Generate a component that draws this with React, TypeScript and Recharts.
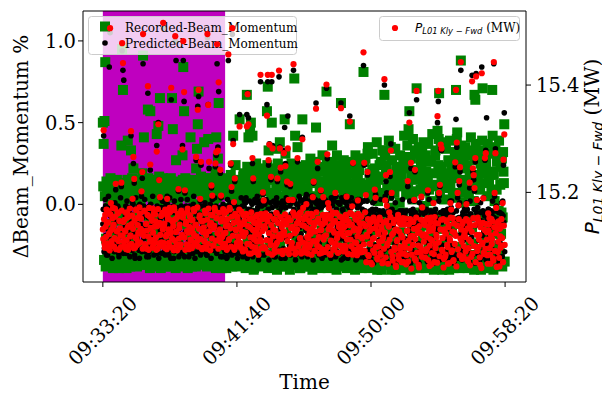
import React from 'react';
import { ScatterChart, Scatter, XAxis, YAxis, ReferenceArea } from 'recharts';

const W = 602;
const H = 394;
const SERIF = '"DejaVu Serif", serif';
const SANS = '"DejaVu Sans", sans-serif';

// time axis: seconds of day; samples every 1.5 s from 09:33:20 (two interleaved sets, 3 s apart each)
const T0 = 34400;
const STEP = 3;
const HALF = 1.5;
const X_DOMAIN = [34326, 35978];
const X_TICKS = [34400, 34900, 35400, 35900];
const SHADE_START = 34400;
const SHADE_END = 34856;

const LEFT_DOMAIN = [-0.475, 1.183];
const LEFT_TICKS = [0, 0.5, 1];
const RIGHT_DOMAIN = [15.033, 15.538];
const RIGHT_TICKS = [15.2, 15.4];

// Recorded-Beam_Momentum (%), samples at T0 + 3 s * i
const RECORDED = [
  0.50, 0.37, 0.51, 0.87, -0.21, 0.08, -0.35, -0.02, 0.12, -0.28, 0.03, -0.14, -0.37, 0.14, -0.06, -0.31, 0.10, -0.18, -0.25, 0.06, -0.39, -0.10, 0.01, 0.36, 0.95,
  0.70, -0.17, 0.09, -0.33, -0.04, -0.26, 0.39, 0.13, -0.12, -0.38, 0.33, -0.08, 0.05, 0.22, 0.15, -0.22, -0.30, 0.02, -0.36, -0.15, 0.11, -0.27, -0.01, 0.07, 0.19,
  0.91, 0.41, -0.31, 0.10, -0.19, -0.37, 0.58, -0.05, 0.14, 0.57, -0.24, -0.12, 0.04, -0.34, -0.16, 0.12, -0.28, 0.43, -0.09, 0.48, 0.17, 0.65, -0.39, -0.02, -0.21,
  -0.13, 0.06, -0.36, -0.20, 0.11, -0.03, -0.29, 0.15, -0.10, -0.38, -0.17, 0.65, 0.46, 0.08, -0.25, -0.06, 0.27, -0.33, 0.02, -0.22, 0.13, -0.11, -0.35, 0.05, 0.30,
  0.84, 0.57, 0.09, -0.28, -0.12, 0.13, -0.35, -0.07, 0.04, 0.41, -0.21, -0.38, 0.10, -0.15, -0.30, 0.00, 0.22, 0.34, 0.49, 0.69, -0.24, -0.09, 0.17, -0.33, 0.07,
  0.12, 0.38, -0.34, 0.05, -0.18, -0.08, 0.40, 0.16, -0.27, -0.01, 0.09, -0.37, -0.13, 0.03, -0.23, 0.20, 0.41, -0.30, 0.28, 0.62, -0.05, 0.14, -0.20, -0.39, 0.08,
  -0.26, 0.07, -0.11, -0.36, 0.15, -0.19, -0.02, 0.11, -0.31, 0.18, -0.07, -0.38, 0.42, 0.05, -0.23, 0.24, -0.14, -0.33, 0.01, -0.27, 0.52, 0.09, -0.17, -0.04, 0.13,
  0.19, -0.13, 0.06, -0.35, 0.67, -0.22, 0.41, -0.05, 0.45, 0.50, -0.29, 0.42, 0.17, -0.39, 0.10, -0.17, -0.32, 0.03, 0.21, -0.25, -0.10, 0.13, -0.37, -0.02, 0.08,
  -0.11, 0.14, -0.33, -0.01, 0.57, 0.72, 0.33, -0.24, 0.20, -0.15, 0.50, -0.38, 0.05, -0.27, -0.08, 0.16, -0.35, 0.34, 0.11, -0.20, 0.38, -0.04, 0.19, -0.30, 0.02,
  0.18, 0.52, 0.31, -0.18, 0.09, -0.30, 0.02, -0.37, 0.15, -0.09, -0.25, 0.21, -0.13, 0.77, 0.42, -0.34, 0.06, 0.35, -0.21, 0.12, -0.39, -0.03, -0.28, 0.52, 0.10,
  -0.14, 0.23, -0.31, 0.08, -0.05, -0.38, 0.17, -0.22, 0.28, -0.10, 0.03, -0.34, 0.14, -0.19, 0.25, 0.47, -0.27, 0.21, -0.02, -0.36, 0.11, 0.06, -0.16, 0.30, -0.08,
  0.20, -0.24, 0.04, 0.69, -0.12, 0.15, -0.35, 0.09, -0.18, 0.26, 0.36, -0.29, -0.06, 0.12, -0.39, 0.19, 0.30, -0.21, 0.01, -0.32, 0.24, 0.62, -0.09, -0.37, 0.07,
  -0.15, 0.10, -0.33, 0.18, -0.04, -0.26, 0.13, 0.49, -0.38, 0.06, -0.19, 0.22, -0.11, -0.36, 0.30, 0.02, -0.23, 0.16, -0.30, -0.07, 0.27, 0.09, -0.39, -0.14, 0.81,
  0.26, -0.20, 0.09, -0.33, 0.31, -0.12, 0.04, -0.38, 0.14, -0.26, 0.21, -0.07, -0.35, 0.17, 0.11, -0.16, -0.40, 0.02, -0.29, 0.24, -0.10, -0.37, 0.07, -0.23, 0.33,
  0.67, 0.30, 0.19, 0.24, -0.14, 0.05, -0.31, 0.13, 0.35, 0.08, -0.38, -0.02, -0.22, 0.16, -0.40, -0.09, 0.21, -0.27, -0.35, 0.01, -0.17, 0.11, -0.30, -0.05, -0.39,
  0.12, -0.25, 0.06, -0.36, 0.22, 0.46, 0.57, -0.10, 0.28, -0.18, 0.03, -0.39, 0.15, 0.33, -0.29, 0.71, -0.06, 0.19, -0.33, -0.14, 0.09, 0.25, 0.32, -0.21, -0.01,
  0.08, -0.32, 0.20, -0.13, 0.14, -0.24, -0.38, 0.02, 0.27, -0.19, -0.05, 0.11, -0.36, 0.30, -0.28, -0.09, 0.45, 0.24, 0.68, 0.05, 0.38, 0.18, -0.40, -0.15, 0.03,
  -0.22, 0.10, -0.35, 0.19, -0.08, 0.26, -0.30, 0.13, 0.21, -0.17, 0.04, -0.39, 0.16, 0.29, 0.70, 0.40, -0.12, -0.26, 0.07, 0.23, 0.88, -0.36, 0.01, -0.19, 0.32,
  0.15, -0.31, 0.24, -0.10, -0.38, 0.06, 0.20, -0.24, 0.11, -0.15, 0.33, 0.02, 0.67, 0.64, 0.27, -0.34, 0.18, -0.06, -0.29, 0.09, -0.40, 0.22, 0.71, 0.13, -0.20,
  0.31, 0.22, -0.16, 0.05, -0.33, 0.14, -0.22, -0.39, 0.09, 0.70, -0.27, 0.18, 0.02, 0.35, -0.11, 0.26, -0.36, -0.04, -0.30, 0.12, -0.18, 0.28, -0.08, 0.20, 0.49,
];

// Recorded-Beam_Momentum (%), samples at T0 + 1.5 s + 3 s * i
const RECORDED_HALF = [
  0.11, -0.34, 0.05, -0.38, 0.14, -0.31, -0.12, 0.08, -0.36, 0.16, -0.33, 0.02, -0.39, 0.12, -0.22, 0.06, -0.35, 0.15, -0.30, -0.05, 0.09, -0.37, 0.13, -0.32, 0.04,
  -0.36, 0.13, -0.31, 0.06, -0.39, 0.15, -0.18, -0.33, 0.10, -0.37, 0.03, 0.16, -0.30, -0.08, 0.12, -0.35, 0.07, -0.38, 0.14, -0.26, -0.32, 0.09, -0.36, 0.11, 0.05,
  0.14, -0.33, 0.08, -0.37, 0.12, -0.29, 0.16, -0.10, -0.39, 0.05, -0.34, 0.13, -0.31, 0.09, -0.24, -0.36, 0.15, 0.03, -0.38, 0.11, -0.32, 0.07, -0.15, -0.35, 0.16,
  -0.32, 0.10, -0.38, 0.15, -0.06, 0.12, -0.35, 0.04, -0.30, 0.16, -0.37, -0.21, 0.08, -0.33, 0.14, -0.39, 0.11, -0.13, -0.36, 0.06, 0.13, -0.31, 0.09, -0.38, 0.15,
  0.07, -0.37, 0.16, -0.31, 0.11, -0.39, -0.16, 0.13, -0.34, 0.05, -0.36, 0.15, -0.09, -0.32, 0.10, -0.38, 0.14, -0.27, 0.08, -0.35, 0.12, -0.30, -0.03, 0.16, -0.37,
  -0.35, 0.15, -0.30, 0.09, -0.38, 0.13, -0.11, -0.33, 0.06, 0.16, -0.37, -0.20, 0.11, -0.31, 0.14, -0.39, 0.04, -0.34, 0.12, -0.07, -0.36, 0.10, 0.15, -0.32, -0.25,
  0.13, -0.32, 0.06, -0.39, 0.16, -0.14, -0.35, 0.10, -0.30, 0.14, -0.37, 0.03, -0.22, 0.12, -0.34, 0.08, -0.38, 0.15, -0.05, -0.31, 0.11, -0.36, 0.07, -0.33, 0.17,
  -0.34, 0.18, -0.39, 0.09, 0.23, -0.31, -0.14, 0.13, -0.37, 0.21, -0.33, 0.06, -0.40, 0.16, -0.23, 0.25, -0.35, 0.11, -0.30, -0.06, 0.19, -0.38, 0.14, -0.32, 0.22,
  0.20, -0.36, 0.12, -0.31, 0.24, -0.39, -0.09, 0.15, -0.34, 0.07, 0.22, -0.37, -0.19, 0.17, -0.30, 0.10, -0.40, 0.25, -0.33, 0.05, -0.26, 0.18, -0.38, 0.13, -0.32,
  -0.38, 0.23, -0.32, 0.14, -0.36, 0.08, 0.20, -0.40, -0.12, 0.25, -0.33, 0.11, -0.30, 0.17, -0.37, -0.21, 0.06, 0.22, -0.35, 0.15, -0.39, 0.09, -0.04, 0.19, -0.31,
  0.16, -0.33, 0.24, -0.38, 0.09, -0.30, 0.21, -0.16, -0.36, 0.13, -0.40, 0.26, 0.05, -0.32, 0.18, -0.37, -0.08, 0.23, -0.34, 0.11, -0.39, 0.20, -0.25, 0.14, -0.31,
  -0.37, 0.12, -0.31, 0.25, -0.39, 0.17, -0.11, -0.34, 0.22, 0.07, -0.36, 0.19, -0.30, -0.20, 0.14, -0.40, 0.24, 0.10, -0.33, 0.21, -0.38, -0.05, 0.16, -0.35, 0.27,
  0.23, -0.35, 0.15, -0.39, 0.08, 0.26, -0.32, -0.13, 0.19, -0.37, 0.11, -0.30, 0.24, -0.40, -0.22, 0.17, -0.34, 0.06, 0.21, -0.36, 0.13, -0.31, 0.28, -0.07, -0.38,
  -0.36, 0.28, 0.12, -0.32, 0.35, -0.39, 0.19, -0.15, 0.06, -0.34, 0.31, -0.38, 0.22, -0.30, 0.09, 0.38, -0.37, 0.15, -0.06, -0.33, 0.26, -0.40, 0.33, 0.17, -0.31,
  0.32, -0.37, 0.20, 0.10, -0.33, 0.39, -0.30, 0.14, -0.40, 0.27, -0.19, -0.35, 0.07, 0.34, -0.38, 0.23, -0.31, 0.13, -0.09, 0.30, -0.36, 0.18, -0.39, 0.25, 0.42,
  -0.32, 0.24, -0.38, 0.36, 0.11, -0.35, 0.29, -0.40, 0.17, -0.13, 0.40, -0.33, 0.08, -0.37, 0.31, 0.21, -0.30, 0.35, -0.39, -0.05, 0.27, -0.34, 0.14, 0.38, -0.36,
  0.30, -0.39, 0.16, -0.34, 0.37, 0.09, -0.31, 0.26, -0.37, 0.43, -0.22, -0.40, 0.19, 0.33, -0.35, 0.12, -0.30, 0.40, -0.08, -0.38, 0.23, 0.35, -0.33, 0.15, -0.36,
  -0.37, 0.34, 0.13, -0.31, 0.27, -0.40, 0.39, -0.16, -0.35, 0.21, 0.07, -0.38, 0.32, -0.33, 0.18, 0.44, -0.30, 0.25, -0.39, -0.10, 0.36, -0.34, 0.11, 0.29, -0.37,
  0.35, -0.33, 0.22, -0.39, 0.30, 0.10, -0.36, 0.41, -0.31, 0.17, -0.24, -0.40, 0.28, 0.37, -0.34, 0.14, -0.38, 0.33, -0.07, 0.25, -0.35, 0.39, -0.30, 0.19, -0.37,
  -0.34, 0.26, -0.39, 0.37, 0.15, -0.31, 0.31, -0.36, 0.20, 0.42, -0.40, -0.18, 0.34, -0.33, 0.09, 0.28, -0.37, 0.39, -0.30, 0.23, -0.05, -0.38, 0.32, 0.13, -0.35,
];

// Predicted-Beam_Momentum (%), samples at T0 + 3 s * i
const PREDICTED = [
  -0.12, 0.42, -0.27, 0.03, -0.19, -0.05, -0.31, 0.05, 0.84, 1.05, -0.01, -0.22, -0.08, -0.15, -0.29, 0.01, 0.09, -0.17, -0.25, -0.02, -0.32, -0.10, 0.04, 0.11, 0.94,
  0.82, 0.76, -0.24, -0.07, -0.30, 0.02, -0.16, -0.27, -0.04, -0.20, 0.42, -0.11, 0.01, 0.25, 0.13, -0.33, 0.04, -0.23, -0.09, -0.18, -0.28, 0.00, -0.13, 0.05, 0.16,
  0.86, -0.21, 0.03, -0.29, -0.06, -0.14, 0.68, -0.32, -0.01, 0.21, -0.25, -0.10, 0.05, -0.19, -0.03, -0.27, -0.12, 0.36, -0.30, 0.50, 0.15, 0.04, -0.08, -0.22, 0.02,
  1.08, -0.18, -0.28, 0.01, -0.09, 0.05, -0.23, -0.31, 0.04, -0.13, 0.64, -0.26, -0.05, -0.33, 0.02, 1.00, 0.88, -0.20, -0.07, 0.08, -0.15, -0.29, 0.03, -0.11, 0.36,
  0.88, 0.63, 0.07, -0.04, -0.27, 0.03, -0.17, -0.32, -0.01, -0.22, -0.08, -0.14, -0.30, 0.05, -0.19, -0.10, 0.27, -0.25, 0.60, 0.66, -0.06, 0.02, 0.24, -0.29, -0.12,
  -0.09, -0.26, 0.01, -0.15, -0.31, 1.02, 0.61, 0.22, -0.19, -0.03, 0.10, 0.03, -0.28, -0.12, 0.04, 0.23, 0.30, 0.86, 0.35, 0.69, -0.22, 0.19, 0.04, -0.06, -0.32,
  -0.20, -0.02, -0.29, -0.11, -0.33, 0.03, 0.88, -0.24, 0.01, 0.24, 0.08, 1.04, 0.39, -0.01, 0.14, -0.16, -0.30, -0.05, -0.21, -0.09, 0.55, -0.27, 0.04, -0.14, -0.32,
  -0.07, 0.02, -0.26, 0.04, 0.55, 0.68, 0.53, -0.18, -0.03, -0.31, 0.01, 0.25, 0.14, -0.13, 0.03, -0.23, -0.09, 0.05, -0.29, -0.15, 0.00, 0.75, -0.20, 0.02, 0.06,
  0.02, -0.05, -0.27, 0.03, 0.61, 0.75, 0.24, 0.37, -0.16, 0.15, 0.75, 0.36, -0.10, -0.32, 0.01, -0.21, 0.04, 0.14, -0.12, 0.78, 0.35, 0.20, -0.02, -0.28, -0.08,
  0.33, 0.47, 0.25, 0.04, 0.12, 0.54, 0.03, -0.25, 0.11, -0.06, -0.19, 0.03, 0.82, 0.02, -0.31, -0.11, 0.00, 0.26, -0.22, 0.05, -0.14, 0.03, -0.29, 0.41, -0.02,
  0.01, -0.21, 0.04, 0.06, -0.12, -0.30, 0.02, -0.08, -0.26, 0.05, -0.04, 0.05, 0.13, -0.28, 0.03, 0.62, -0.17, 0.22, 0.00, -0.24, -0.10, 0.08, -0.32, -0.01, 0.04,
  -0.13, 0.03, -0.27, 0.71, 0.28, 0.01, -0.01, -0.06, -0.31, 0.04, -0.19, -0.09, 0.02, -0.23, 0.05, 0.05, -0.15, -0.29, 0.01, -0.11, -0.25, 0.62, 0.04, -0.03, -0.33,
  0.02, -0.22, 0.05, 0.04, -0.10, -0.30, -0.02, 0.54, -0.17, 0.04, 0.00, 0.25, -0.27, -0.07, 0.01, -0.20, -0.33, 0.03, -0.13, 0.03, -0.25, 0.02, -0.15, -0.29, 0.85,
  0.24, -0.04, 0.03, -0.09, 0.18, -0.28, -0.05, -0.19, -0.34, -0.12, -0.03, -0.25, -0.15, 0.02, 0.06, -0.07, -0.31, -0.11, -0.22, -0.04, -0.29, -0.10, -0.17, -0.35, -0.06,
  0.73, 0.05, 0.14, 0.07, -0.20, -0.08, -0.03, 0.17, 0.37, 0.04, -0.32, -0.13, -0.05, -0.24, -0.36, -0.10, -0.18, -0.06, -0.30, -0.07, -0.22, -0.12, -0.27, -0.04, -0.33,
  -0.06, -0.21, -0.34, -0.11, 0.11, -0.17, 0.56, -0.04, 0.22, -0.28, -0.14, -0.07, 0.02, 0.20, -0.31, 0.64, -0.09, -0.24, -0.36, -0.12, -0.26, 0.04, -0.01, -0.05, -0.19,
  -0.10, -0.30, -0.03, -0.23, 0.07, -0.08, -0.35, -0.16, -0.05, -0.27, -0.12, 0.01, -0.33, -0.06, -0.20, -0.14, 0.50, 0.63, 0.05, 0.11, 0.34, 0.33, -0.25, -0.04, -0.31,
  -0.09, -0.29, -0.04, -0.21, -0.34, -0.06, -0.15, 0.02, -0.02, -0.26, -0.05, -0.32, -0.11, 0.23, 0.52, 0.35, 0.04, -0.01, 0.12, 0.20, 0.82, -0.18, -0.07, -0.30, -0.13,
  -0.08, -0.27, 0.01, -0.03, -0.35, -0.17, 0.10, -0.06, -0.31, 0.79, 0.20, 0.15, 0.08, 0.26, 0.80, 0.03, -0.02, -0.22, -0.12, -0.33, -0.05, 0.84, -0.19, 0.04, -0.28,
  0.27, 0.33, 0.53, -0.25, -0.03, -0.07, -0.19, -0.33, -0.04, -0.14, -0.29, 0.86, 0.05, 0.34, -0.01, -0.09, -0.23, -0.05, -0.36, -0.12, -0.20, -0.06, 0.02, 0.24, 0.56,
];

// Predicted-Beam_Momentum (%), samples at T0 + 1.5 s + 3 s * i
const PREDICTED_HALF = [
  -0.03, -0.29, -0.12, -0.01, -0.31, -0.15, -0.20, -0.27, -0.02, -0.07, -0.05, -0.33, -0.16, 0.00, -0.28, -0.11, -0.24, -0.03, -0.01, -0.30, -0.10, -0.19, -0.26, -0.04, -0.18,
  -0.30, -0.04, -0.14, -0.01, -0.27, -0.17, -0.22, -0.02, -0.32, -0.06, -0.11, -0.28, 0.00, -0.18, -0.31, -0.03, -0.09, -0.21, -0.26, -0.01, -0.33, -0.12, -0.04, -0.29, -0.08,
  -0.01, -0.27, -0.13, -0.19, -0.32, -0.02, -0.08, -0.29, -0.04, 0.00, -0.25, -0.13, -0.20, -0.31, -0.03, -0.22, -0.28, -0.01, -0.04, -0.33, -0.10, -0.16, -0.02, -0.30, -0.07,
  -0.26, -0.02, -0.31, -0.14, -0.11, 0.00, -0.28, -0.05, -0.03, -0.33, -0.18, -0.21, -0.01, -0.29, -0.15, -0.04, -0.27, -0.02, -0.08, -0.32, -0.12, -0.24, -0.01, -0.30, -0.06,
  -0.04, -0.32, -0.17, -0.01, -0.28, -0.11, -0.23, -0.02, -0.30, -0.09, -0.03, -0.27, 0.00, -0.13, -0.33, -0.19, -0.06, -0.29, -0.02, -0.20, -0.07, -0.31, -0.01, -0.26, -0.14,
  -0.29, -0.01, -0.10, -0.16, -0.31, -0.02, -0.26, -0.18, 0.00, -0.33, -0.12, -0.07, -0.03, -0.28, -0.22, -0.01, -0.30, -0.20, -0.14, -0.27, -0.02, -0.32, -0.09, -0.04, 0.00,
  -0.02, -0.28, -0.15, -0.21, -0.32, -0.01, -0.12, -0.29, -0.03, -0.05, -0.31, -0.18, -0.25, 0.00, -0.16, -0.27, -0.04, -0.33, -0.02, -0.09, -0.30, -0.11, -0.19, -0.01, -0.26,
  -0.01, -0.30, 0.01, -0.17, -0.33, -0.03, -0.09, 0.02, -0.28, -0.23, 0.00, -0.32, -0.04, -0.13, 0.01, -0.29, -0.04, -0.02, -0.34, 0.02, -0.20, -0.31, -0.01, -0.07, 0.01,
  -0.31, 0.00, -0.12, 0.02, -0.29, -0.03, -0.34, -0.19, 0.01, -0.06, -0.02, -0.30, 0.02, -0.24, -0.32, -0.01, -0.10, 0.01, -0.28, -0.04, -0.15, -0.33, 0.00, 0.02, -0.27,
  0.01, -0.33, -0.02, -0.21, 0.02, -0.29, -0.08, -0.01, -0.31, 0.01, -0.14, -0.28, -0.03, 0.02, -0.34, -0.25, 0.00, -0.05, -0.30, -0.02, 0.02, -0.18, -0.32, -0.01, -0.11,
  -0.28, 0.02, -0.16, -0.02, -0.32, 0.01, -0.07, -0.30, -0.01, 0.02, -0.22, -0.34, -0.03, -0.12, 0.01, -0.29, 0.00, -0.03, -0.31, 0.02, -0.19, -0.02, -0.33, 0.01, -0.09,
  0.00, -0.31, 0.02, -0.10, -0.29, -0.02, -0.24, 0.01, -0.33, -0.05, -0.01, -0.28, 0.02, -0.17, -0.32, -0.03, -0.13, 0.01, -0.30, 0.00, -0.21, -0.34, 0.02, -0.04, -0.27,
  -0.30, 0.01, -0.14, -0.01, -0.33, 0.02, -0.06, -0.28, -0.02, -0.20, 0.01, -0.31, 0.00, -0.11, -0.34, 0.02, -0.02, -0.29, -0.01, -0.17, 0.01, -0.32, -0.03, -0.24, 0.02,
  -0.05, -0.33, -0.09, 0.02, -0.35, -0.07, -0.20, -0.04, -0.31, -0.10, 0.01, -0.36, -0.06, -0.25, -0.03, -0.32, -0.08, -0.15, -0.34, -0.05, 0.03, -0.30, -0.11, -0.04, -0.28,
  -0.32, -0.06, 0.02, -0.35, -0.09, -0.04, -0.27, -0.11, -0.31, -0.03, -0.18, -0.36, -0.07, 0.01, -0.33, -0.05, -0.22, -0.10, -0.30, -0.04, -0.34, -0.08, 0.03, -0.29, -0.06,
  -0.08, -0.34, -0.04, -0.16, -0.31, -0.10, 0.02, -0.36, -0.06, -0.23, -0.03, -0.33, -0.09, -0.05, -0.30, -0.12, -0.35, -0.07, 0.01, -0.28, -0.04, -0.32, -0.11, -0.19, -0.06,
  -0.31, -0.05, -0.12, -0.35, -0.08, 0.03, -0.29, -0.04, -0.21, -0.33, -0.10, -0.06, -0.36, -0.03, -0.17, -0.30, -0.09, 0.02, -0.34, -0.05, -0.25, -0.11, -0.32, -0.07, -0.04,
  -0.06, -0.30, -0.10, -0.03, -0.35, -0.14, -0.07, -0.32, 0.02, -0.24, -0.05, -0.36, -0.09, -0.31, -0.04, -0.19, -0.33, -0.08, 0.01, -0.28, -0.11, -0.34, -0.05, -0.22, -0.03,
  -0.33, -0.07, -0.04, -0.29, -0.11, -0.35, 0.02, -0.06, -0.20, -0.31, -0.09, -0.03, -0.36, -0.13, -0.05, -0.30, -0.08, -0.26, -0.34, 0.01, -0.10, -0.32, -0.04, -0.17, -0.07,
  -0.05, -0.34, -0.09, -0.21, -0.03, -0.31, -0.12, -0.36, -0.06, 0.02, -0.28, -0.08, -0.33, -0.04, -0.16, -0.30, -0.10, -0.35, -0.05, -0.24, 0.01, -0.32, -0.07, -0.11, -0.29,
];

// P_L01Kly-Fwd (MW), samples at T0 + 3 s * i
const POWER = [
  15.131, 15.316, 15.104, 15.158, 15.117, 15.143, 15.096, 15.165, 15.124, 15.506, 15.180, 15.109, 15.152, 15.137, 15.099, 15.170, 15.216, 15.128, 15.112, 15.161, 15.093, 15.146, 15.120, 15.218, 15.478,
  15.441, 15.108, 15.149, 15.127, 15.094, 15.163, 15.135, 15.101, 15.156, 15.118, 15.314, 15.141, 15.188, 15.266, 15.225, 15.097, 15.168, 15.113, 15.152, 15.123, 15.105, 15.160, 15.132, 15.202, 15.238,
  15.495, 15.119, 15.166, 15.100, 15.142, 15.129, 15.398, 15.093, 15.155, 15.252, 15.111, 15.147, 15.170, 15.103, 15.136, 15.159, 15.116, 15.276, 15.095, 15.327, 15.223, 15.191, 15.140, 15.107, 15.162,
  15.516, 15.138, 15.097, 15.160, 15.121, 15.188, 15.150, 15.106, 15.171, 15.130, 15.395, 15.114, 15.145, 15.092, 15.167, 15.491, 15.126, 15.102, 15.154, 15.206, 15.133, 15.098, 15.162, 15.117, 15.280,
  15.482, 15.387, 15.204, 15.141, 15.103, 15.164, 15.125, 15.094, 15.157, 15.112, 15.148, 15.132, 15.099, 15.169, 15.119, 15.139, 15.266, 15.108, 15.354, 15.391, 15.153, 15.188, 15.257, 15.096, 15.128,
  15.147, 15.109, 15.166, 15.126, 15.095, 15.495, 15.363, 15.257, 15.139, 15.158, 15.213, 15.194, 15.101, 15.133, 15.171, 15.254, 15.275, 15.476, 15.278, 15.405, 15.115, 15.242, 15.194, 15.151, 15.098,
  15.122, 15.160, 15.104, 15.137, 15.093, 15.150, 15.457, 15.113, 15.168, 15.254, 15.210, 15.506, 15.290, 15.182, 15.226, 15.131, 15.099, 15.155, 15.118, 15.143, 15.323, 15.106, 15.164, 15.127, 15.090,
  15.118, 15.147, 15.092, 15.160, 15.323, 15.383, 15.327, 15.104, 15.135, 15.086, 15.152, 15.264, 15.226, 15.112, 15.143, 15.097, 15.128, 15.158, 15.089, 15.121, 15.139, 15.419, 15.108, 15.150, 15.200,
  15.185, 15.137, 15.095, 15.154, 15.343, 15.419, 15.260, 15.289, 15.110, 15.229, 15.419, 15.282, 15.131, 15.087, 15.149, 15.102, 15.161, 15.226, 15.117, 15.427, 15.282, 15.246, 15.141, 15.091, 15.125,
  15.273, 15.120, 15.249, 15.146, 15.220, 15.282, 15.186, 15.094, 15.216, 15.133, 15.106, 15.186, 15.439, 15.157, 15.085, 15.127, 15.142, 15.264, 15.099, 15.152, 15.114, 15.163, 15.090, 15.299, 15.171,
  15.138, 15.096, 15.155, 15.178, 15.117, 15.086, 15.148, 15.125, 15.103, 15.160, 15.132, 15.191, 15.220, 15.091, 15.144, 15.356, 15.110, 15.257, 15.151, 15.098, 15.129, 15.204, 15.087, 15.140, 15.191,
  15.118, 15.150, 15.093, 15.401, 15.271, 15.180, 15.171, 15.136, 15.084, 15.157, 15.107, 15.129, 15.145, 15.097, 15.199, 15.162, 15.114, 15.088, 15.141, 15.123, 15.101, 15.357, 15.153, 15.131, 15.090,
  15.147, 15.101, 15.158, 15.192, 15.124, 15.085, 15.139, 15.332, 15.112, 15.160, 15.174, 15.255, 15.094, 15.133, 15.150, 15.106, 15.083, 15.185, 15.127, 15.143, 15.098, 15.155, 15.116, 15.089, 15.461,
  15.255, 15.163, 15.195, 15.121, 15.238, 15.083, 15.140, 15.104, 15.069, 15.132, 15.150, 15.092, 15.115, 15.205, 15.190, 15.146, 15.078, 15.127, 15.099, 15.153, 15.087, 15.136, 15.110, 15.072, 15.144,
  15.411, 15.185, 15.232, 15.175, 15.105, 15.138, 15.163, 15.238, 15.278, 15.199, 15.081, 15.124, 15.149, 15.093, 15.064, 15.131, 15.111, 15.158, 15.075, 15.143, 15.099, 15.120, 15.086, 15.152, 15.070,
  15.140, 15.097, 15.066, 15.128, 15.221, 15.110, 15.330, 15.150, 15.255, 15.084, 15.119, 15.145, 15.186, 15.242, 15.073, 15.389, 15.134, 15.101, 15.060, 15.125, 15.089, 15.192, 15.172, 15.147, 15.108,
  15.122, 15.078, 15.149, 15.095, 15.204, 15.136, 15.063, 15.113, 15.153, 15.087, 15.129, 15.180, 15.070, 15.143, 15.104, 15.117, 15.342, 15.389, 15.199, 15.214, 15.289, 15.282, 15.091, 15.150, 15.076,
  15.131, 15.084, 15.146, 15.102, 15.067, 15.139, 15.115, 15.180, 15.168, 15.092, 15.152, 15.074, 15.125, 15.256, 15.391, 15.293, 15.199, 15.176, 15.221, 15.247, 15.443, 15.108, 15.141, 15.081, 15.119,
  15.128, 15.090, 15.178, 15.148, 15.071, 15.112, 15.218, 15.137, 15.080, 15.407, 15.245, 15.232, 15.208, 15.264, 15.416, 15.186, 15.153, 15.098, 15.121, 15.065, 15.142, 15.422, 15.106, 15.189, 15.085,
  15.264, 15.273, 15.126, 15.083, 15.161, 15.140, 15.096, 15.067, 15.150, 15.113, 15.077, 15.443, 15.199, 15.273, 15.171, 15.133, 15.089, 15.146, 15.062, 15.118, 15.101, 15.137, 15.180, 15.261, 15.308,
];

// P_L01Kly-Fwd (MW), samples at T0 + 1.5 s + 3 s * i
const POWER_HALF = [
  15.113, 15.150, 15.097, 15.136, 15.168, 15.105, 15.144, 15.122, 15.092, 15.159, 15.130, 15.101, 15.171, 15.140, 15.115, 15.155, 15.094, 15.127, 15.163, 15.109, 15.147, 15.133, 15.098, 15.166, 15.119,
  15.145, 15.099, 15.129, 15.162, 15.111, 15.153, 15.093, 15.138, 15.170, 15.120, 15.104, 15.157, 15.132, 15.096, 15.148, 15.116, 15.167, 15.102, 15.139, 15.126, 15.172, 15.107, 15.151, 15.123, 15.095,
  15.128, 15.165, 15.103, 15.141, 15.095, 15.158, 15.118, 15.171, 15.108, 15.134, 15.152, 15.097, 15.125, 15.162, 15.112, 15.146, 15.093, 15.137, 15.169, 15.105, 15.143, 15.121, 15.156, 15.100, 15.131,
  15.106, 15.142, 15.168, 15.118, 15.094, 15.155, 15.131, 15.100, 15.163, 15.124, 15.148, 15.097, 15.137, 15.172, 15.110, 15.150, 15.127, 15.092, 15.160, 15.114, 15.140, 15.103, 15.166, 15.121, 15.153,
  15.160, 15.116, 15.093, 15.145, 15.128, 15.170, 15.101, 15.136, 15.154, 15.110, 15.096, 15.149, 15.123, 15.165, 15.105, 15.140, 15.118, 15.172, 15.099, 15.132, 15.157, 15.113, 15.146, 15.094, 15.126,
  15.135, 15.098, 15.161, 15.120, 15.149, 15.104, 15.170, 15.128, 15.092, 15.143, 15.114, 15.157, 15.101, 15.138, 15.166, 15.110, 15.152, 15.124, 15.095, 15.162, 15.131, 15.107, 15.146, 15.117, 15.169,
  15.102, 15.147, 15.125, 15.164, 15.096, 15.139, 15.111, 15.171, 15.133, 15.099, 15.155, 15.119, 15.143, 15.093, 15.160, 15.129, 15.106, 15.150, 15.115, 15.168, 15.136, 15.097, 15.142, 15.122, 15.158,
  15.141, 15.094, 15.125, 15.158, 15.104, 15.137, 15.086, 15.150, 15.116, 15.163, 15.099, 15.130, 15.145, 15.089, 15.121, 15.155, 15.108, 15.134, 15.084, 15.147, 15.112, 15.160, 15.096, 15.128, 15.152,
  15.098, 15.133, 15.161, 15.111, 15.146, 15.087, 15.124, 15.156, 15.102, 15.139, 15.084, 15.118, 15.150, 15.093, 15.129, 15.162, 15.106, 15.143, 15.090, 15.121, 15.154, 15.113, 15.135, 15.085, 15.148,
  15.127, 15.159, 15.092, 15.140, 15.109, 15.153, 15.085, 15.119, 15.148, 15.100, 15.136, 15.163, 15.095, 15.124, 15.157, 15.088, 15.131, 15.144, 15.103, 15.161, 15.115, 15.086, 15.139, 15.107, 15.150,
  15.152, 15.105, 15.088, 15.134, 15.160, 15.114, 15.097, 15.145, 15.123, 15.084, 15.156, 15.109, 15.138, 15.091, 15.127, 15.163, 15.101, 15.148, 15.117, 15.086, 15.142, 15.130, 15.094, 15.158, 15.112,
  15.089, 15.144, 15.120, 15.158, 15.098, 15.131, 15.085, 15.151, 15.110, 15.139, 15.163, 15.093, 15.125, 15.147, 15.104, 15.161, 15.116, 15.087, 15.135, 15.155, 15.100, 15.128, 15.143, 15.092, 15.119,
  15.136, 15.095, 15.153, 15.112, 15.086, 15.146, 15.124, 15.162, 15.100, 15.140, 15.084, 15.129, 15.157, 15.107, 15.091, 15.149, 15.118, 15.160, 15.097, 15.133, 15.088, 15.155, 15.114, 15.142, 15.103,
  15.091, 15.137, 15.070, 15.118, 15.150, 15.081, 15.128, 15.104, 15.145, 15.066, 15.113, 15.153, 15.087, 15.133, 15.098, 15.141, 15.075, 15.122, 15.108, 15.149, 15.084, 15.131, 15.068, 15.116, 15.095,
  15.125, 15.079, 15.147, 15.101, 15.067, 15.136, 15.112, 15.154, 15.089, 15.121, 15.073, 15.143, 15.097, 15.130, 15.061, 15.109, 15.151, 15.083, 15.127, 15.094, 15.140, 15.070, 15.116, 15.148, 15.086,
  15.106, 15.151, 15.083, 15.129, 15.071, 15.140, 15.095, 15.118, 15.058, 15.146, 15.102, 15.132, 15.077, 15.113, 15.153, 15.088, 15.124, 15.065, 15.137, 15.099, 15.149, 15.080, 15.119, 15.092, 15.142,
  15.139, 15.090, 15.117, 15.152, 15.074, 15.128, 15.101, 15.145, 15.066, 15.110, 15.134, 15.085, 15.154, 15.096, 15.121, 15.069, 15.142, 15.107, 15.081, 15.131, 15.149, 15.093, 15.115, 15.060, 15.126,
  15.080, 15.123, 15.148, 15.098, 15.135, 15.068, 15.111, 15.153, 15.089, 15.127, 15.072, 15.142, 15.104, 15.119, 15.062, 15.138, 15.094, 15.150, 15.083, 15.114, 15.131, 15.076, 15.145, 15.100, 15.125,
  15.117, 15.150, 15.075, 15.133, 15.096, 15.144, 15.064, 15.108, 15.127, 15.086, 15.152, 15.100, 15.139, 15.070, 15.121, 15.091, 15.147, 15.112, 15.079, 15.135, 15.059, 15.104, 15.143, 15.088, 15.130,
  15.095, 15.141, 15.112, 15.067, 15.129, 15.152, 15.084, 15.120, 15.104, 15.146, 15.073, 15.135, 15.091, 15.124, 15.061, 15.143, 15.108, 15.078, 15.132, 15.097, 15.150, 15.115, 15.070, 15.138, 15.102,
];

const toPoints = (vals: number[], offset: number) =>
  vals.map((v, i) => ({ t: T0 + offset + STEP * i, v }));
const recData = [...toPoints(RECORDED, 0), ...toPoints(RECORDED_HALF, HALF)];
const predData = [...toPoints(PREDICTED, 0), ...toPoints(PREDICTED_HALF, HALF)];
const powData = [...toPoints(POWER_HALF, HALF), ...toPoints(POWER, 0)];

const pad = (n: number) => String(n).padStart(2, '0');
const fmtTime = (s: number) =>
  `${pad(Math.floor(s / 3600))}:${pad(Math.floor((s % 3600) / 60))}:${pad(Math.round(s % 60))}`;

const TimeTick = (props: any) => {
  const { x, y, payload } = props;
  const cy = y + 42;
  return (
    <text
      x={x}
      y={cy}
      transform={`rotate(-45 ${x} ${cy})`}
      textAnchor="middle"
      dominantBaseline="central"
      fontFamily={SERIF}
      fontSize={19.5}
      fill="#000"
    >
      {fmtTime(payload.value)}
    </text>
  );
};

const GreenSquare = (p: any) => (
  <rect x={p.cx - 5} y={p.cy - 5} width={10} height={10} fill="#008000" />
);
const BlackDot = (p: any) => <circle cx={p.cx} cy={p.cy} r={2.8} fill="#000000" />;
const RedDot = (p: any) => <circle cx={p.cx} cy={p.cy} r={3.1} fill="#ff0000" />;

const tickStyle = { fontFamily: SERIF, fontSize: 19.5, fill: '#000' };
const layer: React.CSSProperties = { position: 'absolute', left: 0, top: 0 };

export default function App() {
  return (
    <div style={{ position: 'absolute', left: 0, top: 0, width: W, height: H, background: '#fff' }}>
      {/* bottom layer: shaded span, recorded and predicted momentum, axes */}
      <div style={layer}>
        <ScatterChart width={W} height={H} margin={{ top: 11, right: 0, bottom: 0, left: 0 }}>
          <XAxis
            dataKey="t"
            type="number"
            domain={X_DOMAIN}
            ticks={X_TICKS}
            allowDataOverflow
            interval={0}
            height={112}
            axisLine={false}
            tickLine={{ stroke: '#000' }}
            tickSize={5}
            tick={(p: any) => <TimeTick {...p} />}
          />
          <YAxis
            yAxisId="left"
            dataKey="v"
            type="number"
            domain={LEFT_DOMAIN}
            ticks={LEFT_TICKS}
            allowDataOverflow
            width={83}
            axisLine={false}
            tickLine={{ stroke: '#000' }}
            tickSize={5}
            tickMargin={2}
            tick={tickStyle}
            tickFormatter={(v: number) => v.toFixed(1)}
          />
          <YAxis
            yAxisId="right"
            orientation="right"
            dataKey="v"
            type="number"
            domain={RIGHT_DOMAIN}
            ticks={RIGHT_TICKS}
            allowDataOverflow
            width={76}
            axisLine={false}
            tickLine={{ stroke: '#000' }}
            tickSize={5}
            tickMargin={5}
            tick={tickStyle}
            tickFormatter={(v: number) => v.toFixed(1)}
          />
          <ReferenceArea
            yAxisId="left"
            x1={SHADE_START}
            x2={SHADE_END}
            y1={LEFT_DOMAIN[0]}
            y2={LEFT_DOMAIN[1]}
            fill="#bf00bf"
            fillOpacity={1}
            stroke="none"
          />
          <Scatter yAxisId="left" data={recData} shape={GreenSquare} isAnimationActive={false} />
          <Scatter yAxisId="left" data={predData} shape={BlackDot} isAnimationActive={false} />
        </ScatterChart>
      </div>

      {/* legend of the left axis, drawn under the twin axis */}
      <svg width={W} height={H} style={{ ...layer, pointerEvents: 'none' }}>
        <rect x={88.5} y={16.5} width={208} height={38} rx={3} fill="#fff" fillOpacity={0.8} stroke="#cccccc" />
        <rect x={100} y={21.5} width={10} height={10} fill="#008000" />
        <text x={125} y={31.5} fontFamily={SERIF} fontSize={12} fill="#000">
          Recorded-Beam_Momentum
        </text>
        <circle cx={105} cy={43} r={2.8} fill="#000" />
        <text x={125} y={47.5} fontFamily={SERIF} fontSize={12} fill="#000">
          Predicted-Beam_Momentum
        </text>
      </svg>

      {/* twin axis: klystron forward power */}
      <div style={layer}>
        <ScatterChart width={W} height={H} margin={{ top: 11, right: 0, bottom: 0, left: 0 }}>
          <XAxis
            dataKey="t"
            type="number"
            domain={X_DOMAIN}
            ticks={X_TICKS}
            allowDataOverflow
            height={112}
            axisLine={false}
            tickLine={false}
            tick={false}
          />
          <YAxis
            yAxisId="left"
            dataKey="v"
            type="number"
            domain={LEFT_DOMAIN}
            allowDataOverflow
            width={83}
            axisLine={false}
            tickLine={false}
            tick={false}
          />
          <YAxis
            yAxisId="right"
            orientation="right"
            dataKey="v"
            type="number"
            domain={RIGHT_DOMAIN}
            allowDataOverflow
            width={76}
            axisLine={false}
            tickLine={false}
            tick={false}
          />
          <Scatter yAxisId="right" data={powData} shape={RedDot} isAnimationActive={false} />
          <ReferenceArea
            yAxisId="right"
            x1={X_DOMAIN[0]}
            x2={X_DOMAIN[1]}
            y1={RIGHT_DOMAIN[0]}
            y2={RIGHT_DOMAIN[1]}
            fill="none"
            stroke="#000"
            strokeWidth={1}
          />
        </ScatterChart>
      </div>

      {/* right legend and axis titles */}
      <svg width={W} height={H} style={{ ...layer, pointerEvents: 'none' }}>
        <rect x={379.5} y={16.5} width={140} height={24} rx={3} fill="#fff" fillOpacity={0.8} stroke="#cccccc" />
        <circle cx={395} cy={28} r={3.1} fill="#ff0000" />
        <text x={415} y={31.5} fontSize={12} fill="#000">
          <tspan fontFamily={SANS} fontStyle="italic">P</tspan>
          <tspan fontFamily={SANS} fontStyle="italic" fontSize={8.4} dy={2.5}>L01 Kly − Fwd</tspan>
          <tspan fontFamily={SERIF} dy={-2.5}> (MW)</tspan>
        </text>

        <text x={304.5} y={389} textAnchor="middle" fontFamily={SERIF} fontSize={20} fill="#000">
          Time
        </text>
        <text
          x={28}
          y={146.5}
          transform="rotate(-90 28 146.5)"
          textAnchor="middle"
          fontFamily={SERIF}
          fontSize={20}
          fill="#000"
        >
          ΔBeam_Momentum %
        </text>
        <text
          x={599}
          y={146.5}
          transform="rotate(-90 599 146.5)"
          textAnchor="middle"
          fontSize={20}
          fill="#000"
        >
          <tspan fontFamily={SANS} fontStyle="italic">P</tspan>
          <tspan fontFamily={SANS} fontStyle="italic" fontSize={14} dy={4}>L01 Kly − Fwd</tspan>
          <tspan fontFamily={SERIF} dy={-4}> (MW)</tspan>
        </text>
      </svg>
    </div>
  );
}
